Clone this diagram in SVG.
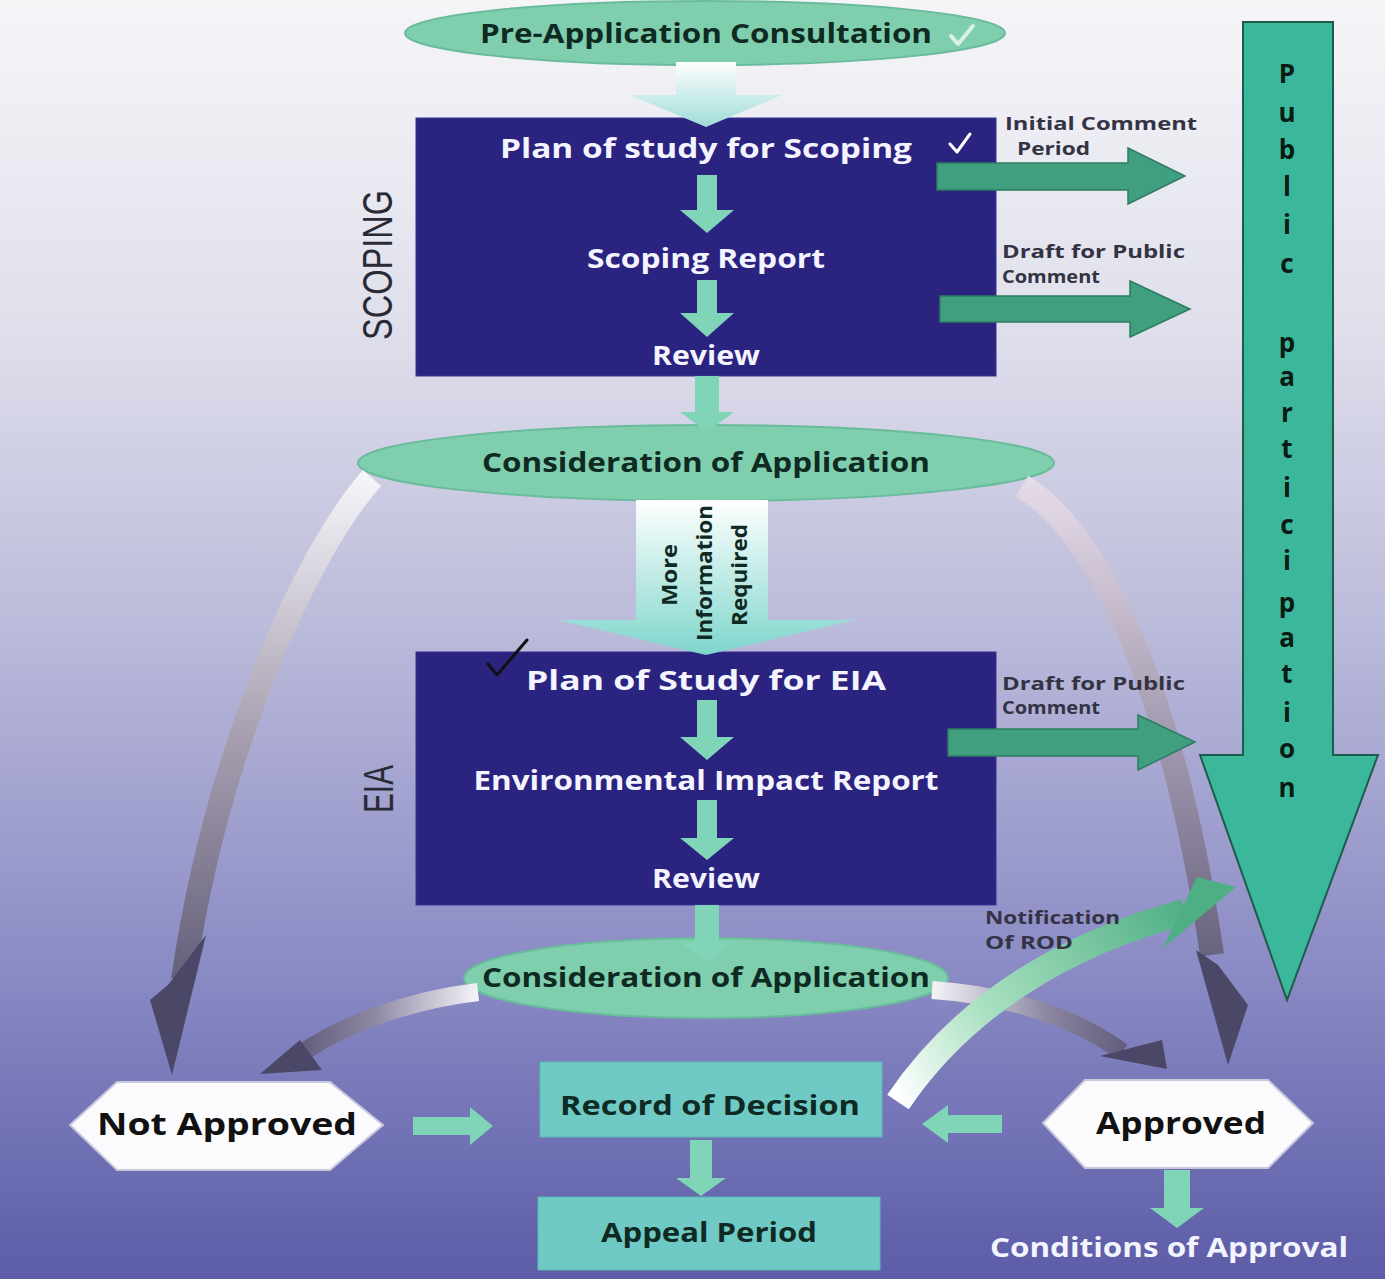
<svg xmlns="http://www.w3.org/2000/svg" width="1385" height="1279" viewBox="0 0 1385 1279">
<defs>
<linearGradient id="bg" x1="0" y1="0" x2="0" y2="1">
<stop offset="0" stop-color="#f5f5f8"/>
<stop offset="0.25" stop-color="#e0e0ec"/>
<stop offset="0.5" stop-color="#b9b9da"/>
<stop offset="0.75" stop-color="#8c8cc6"/>
<stop offset="1" stop-color="#5c5ca8"/>
</linearGradient>
<linearGradient id="gPre" x1="0" y1="62" x2="0" y2="127" gradientUnits="userSpaceOnUse">
<stop offset="0" stop-color="#ffffff"/>
<stop offset="1" stop-color="#9edcd8"/>
</linearGradient>
<linearGradient id="gMore" x1="0" y1="500" x2="0" y2="655" gradientUnits="userSpaceOnUse">
<stop offset="0" stop-color="#ffffff"/>
<stop offset="1" stop-color="#7fd6cc"/>
</linearGradient>
<linearGradient id="gLeft" x1="0" y1="475" x2="0" y2="1075" gradientUnits="userSpaceOnUse">
<stop offset="0" stop-color="#f6f6fa"/>
<stop offset="0.45" stop-color="#a59cae"/>
<stop offset="1" stop-color="#4a4866"/>
</linearGradient>
<linearGradient id="gRight" x1="0" y1="480" x2="0" y2="1065" gradientUnits="userSpaceOnUse">
<stop offset="0" stop-color="#e6dce8"/>
<stop offset="0.5" stop-color="#9a90a8"/>
<stop offset="1" stop-color="#4a4866"/>
</linearGradient>
<linearGradient id="gNA" x1="478" y1="0" x2="262" y2="0" gradientUnits="userSpaceOnUse">
<stop offset="0" stop-color="#f4f4f8"/>
<stop offset="0.5" stop-color="#8a84a0"/>
<stop offset="1" stop-color="#4a4866"/>
</linearGradient>
<linearGradient id="gAP" x1="932" y1="0" x2="1168" y2="0" gradientUnits="userSpaceOnUse">
<stop offset="0" stop-color="#f4f4f8"/>
<stop offset="0.5" stop-color="#8a84a0"/>
<stop offset="1" stop-color="#4a4866"/>
</linearGradient>
<linearGradient id="gNot" x1="900" y1="1100" x2="1190" y2="905" gradientUnits="userSpaceOnUse">
<stop offset="0" stop-color="#ffffff"/>
<stop offset="0.35" stop-color="#a8e0c0"/>
<stop offset="1" stop-color="#4eae84"/>
</linearGradient>
<style>
.ell{fill:#7fcfaf;stroke:#69bb9c;stroke-width:2}
.box{fill:#2b2380;stroke:#3a3290;stroke-width:1}
.tbox{fill:#6fcac6;stroke:#5fb8b4;stroke-width:1}
.hex{fill:#fbfbfd;stroke:#c8c8dc;stroke-width:2}
.mint{fill:#80d4b8}
.side{fill:#3f9f7f;stroke:#2e7c62;stroke-width:1.5}
.lbl{font-family:"Comic Sans MS","Open Sans","Liberation Sans",sans-serif;font-weight:bold;font-size:26px;text-anchor:middle}
.dk{fill:#0f2a22}
.wh{fill:#f4f4ff}
.sm{font-family:"Comic Sans MS","Open Sans","Liberation Sans",sans-serif;font-weight:bold;font-size:17px;fill:#333344}
.pp{font-family:"Comic Sans MS","Open Sans","Liberation Sans",sans-serif;font-weight:bold;font-size:26px;fill:#0a1a14;text-anchor:middle;dominant-baseline:central}
.side-title{font-family:"Liberation Sans",sans-serif;font-size:42px;fill:#2a2a36;text-anchor:middle}
</style>
</defs>

<rect x="0" y="0" width="1385" height="1279" fill="url(#bg)"/>

<!-- Public participation big arrow -->
<g id="public-participation">
<path d="M1243 22 H1333 V755 H1378 L1287 1000 L1200 755 H1243 Z" fill="#3bb89c" stroke="#1f5a4a" stroke-width="2"/>
<text class="pp" x="1287" y="73">P</text>
<text class="pp" x="1287" y="112">u</text>
<text class="pp" x="1287" y="149">b</text>
<text class="pp" x="1287" y="186">l</text>
<text class="pp" x="1287" y="224">i</text>
<text class="pp" x="1287" y="263">c</text>
<text class="pp" x="1287" y="342">p</text>
<text class="pp" x="1287" y="376">a</text>
<text class="pp" x="1287" y="412">r</text>
<text class="pp" x="1287" y="448">t</text>
<text class="pp" x="1287" y="487">i</text>
<text class="pp" x="1287" y="524">c</text>
<text class="pp" x="1287" y="560">i</text>
<text class="pp" x="1287" y="602">p</text>
<text class="pp" x="1287" y="637">a</text>
<text class="pp" x="1287" y="673">t</text>
<text class="pp" x="1287" y="712">i</text>
<text class="pp" x="1287" y="748">o</text>
<text class="pp" x="1287" y="787">n</text>
</g>

<!-- side titles -->
<text class="side-title" transform="translate(392,265) rotate(-90)" textLength="150" lengthAdjust="spacingAndGlyphs">SCOPING</text>
<text class="side-title" transform="translate(393,789) rotate(-90)" textLength="48" lengthAdjust="spacingAndGlyphs">EIA</text>

<!-- Nodes -->
<g id="pre-app">
<ellipse class="ell" cx="705" cy="33" rx="300" ry="32"/>
<text class="lbl dk" x="706" y="43" textLength="452" lengthAdjust="spacingAndGlyphs">Pre-Application Consultation</text>
<path d="M951 36 L958 44 L973 26" fill="none" stroke="#e8f8f0" stroke-width="4" stroke-linecap="round" stroke-linejoin="round" opacity="0.85"/>
</g>

<g id="scoping">
<rect class="box" x="416" y="118" width="580" height="258"/>
<text class="lbl wh" x="706" y="158" textLength="412" lengthAdjust="spacingAndGlyphs">Plan of study for Scoping</text>
<text class="lbl wh" x="706" y="268" textLength="238" lengthAdjust="spacingAndGlyphs">Scoping Report</text>
<text class="lbl wh" x="706" y="365" textLength="108" lengthAdjust="spacingAndGlyphs">Review</text>
<path d="M950 144 L957 152 L970 134" fill="none" stroke="#ffffff" stroke-width="3" stroke-linecap="round" stroke-linejoin="round"/>
</g>

<g id="consideration-1">
<ellipse class="ell" cx="706" cy="463" rx="348" ry="38"/>
<text class="lbl dk" x="706" y="472" textLength="448" lengthAdjust="spacingAndGlyphs">Consideration of Application</text>
</g>

<g id="eia">
<rect class="box" x="416" y="652" width="580" height="253"/>
<text class="lbl wh" x="706" y="690" textLength="360" lengthAdjust="spacingAndGlyphs">Plan of Study for EIA</text>
<text class="lbl wh" x="706" y="790" textLength="465" lengthAdjust="spacingAndGlyphs">Environmental Impact Report</text>
<text class="lbl wh" x="706" y="888" textLength="108" lengthAdjust="spacingAndGlyphs">Review</text>
</g>

<g id="consideration-2">
<ellipse class="ell" cx="706" cy="978" rx="242" ry="40"/>
<text class="lbl dk" x="706" y="987" textLength="448" lengthAdjust="spacingAndGlyphs">Consideration of Application</text>
</g>

<g id="not-approved">
<path class="hex" d="M70 1125 L117 1082 H330 L383 1125 L330 1170 H117 Z"/>
<text class="lbl" x="227" y="1135" fill="#111" style="font-size:31px" textLength="260" lengthAdjust="spacingAndGlyphs">Not Approved</text>
</g>

<g id="record-of-decision">
<rect class="tbox" x="540" y="1062" width="342" height="75"/>
<text class="lbl dk" x="710" y="1115" textLength="300" lengthAdjust="spacingAndGlyphs">Record of Decision</text>
</g>

<g id="appeal-period">
<rect class="tbox" x="538" y="1197" width="342" height="73"/>
<text class="lbl dk" x="709" y="1242" textLength="216" lengthAdjust="spacingAndGlyphs">Appeal Period</text>
</g>

<g id="approved">
<path class="hex" d="M1043 1123 L1085 1080 H1268 L1313 1123 L1268 1168 H1085 Z"/>
<text class="lbl" x="1181" y="1134" fill="#111" style="font-size:31px" textLength="170" lengthAdjust="spacingAndGlyphs">Approved</text>
</g>

<g id="conditions-of-approval">
<text class="lbl wh" x="1169" y="1257" textLength="358" lengthAdjust="spacingAndGlyphs">Conditions of Approval</text>
</g>

<!-- Connectors -->
<g id="connectors">
<!-- pre-app to scoping -->
<path d="M676 62 H736 V95 H782 L706 127 L630 95 H676 Z" fill="url(#gPre)"/>
<!-- inside scoping -->
<path class="mint" d="M697 175 H717 V210 H734 L707 233 L680 210 H697 Z"/>
<path class="mint" d="M697 280 H717 V313 H734 L707 337 L680 313 H697 Z"/>
<!-- scoping to consideration 1 -->
<path class="mint" d="M695 376 H719 V412 H734 L707 432 L680 412 H695 Z"/>
<!-- more information required -->
<path d="M636 500 H768 V620 H855 L706 655 L558 620 H636 Z" fill="url(#gMore)"/>
<g class="lbl dk" style="font-size:22px">
<text transform="translate(677,575) rotate(-90)" textLength="62" lengthAdjust="spacingAndGlyphs">More</text>
<text transform="translate(712,573) rotate(-90)" textLength="136" lengthAdjust="spacingAndGlyphs">Information</text>
<text transform="translate(747,575) rotate(-90)" textLength="102" lengthAdjust="spacingAndGlyphs">Required</text>
</g>
<path d="M488 664 L497 675 L527 640" fill="none" stroke="#111" stroke-width="3" stroke-linecap="round" stroke-linejoin="round"/>
<!-- inside EIA -->
<path class="mint" d="M697 700 H717 V737 H734 L707 760 L680 737 H697 Z"/>
<path class="mint" d="M697 800 H717 V838 H734 L707 860 L680 838 H697 Z"/>
<!-- EIA to consideration 2 -->
<path class="mint" d="M695 905 H719 V942 H734 L707 962 L680 942 H695 Z"/>

<!-- side arrows to public participation -->
<path class="side" d="M937 163 H1128 V148 L1185 176 L1128 204 V190 H937 Z"/>
<text class="sm" x="1005" y="130" textLength="192" lengthAdjust="spacingAndGlyphs">Initial Comment</text>
<text class="sm" x="1017" y="155" textLength="73" lengthAdjust="spacingAndGlyphs">Period</text>
<path class="side" d="M940 296 H1130 V281 L1190 309 L1130 337 V322 H940 Z"/>
<text class="sm" x="1002" y="258" textLength="183" lengthAdjust="spacingAndGlyphs">Draft for Public</text>
<text class="sm" x="1002" y="283" textLength="98" lengthAdjust="spacingAndGlyphs">Comment</text>

<!-- gray curved arrows from consideration 1 -->
<path d="M372 478 C300 560, 215 760, 183 980" fill="none" stroke="url(#gLeft)" stroke-width="24"/>
<path d="M172 1075 L150 1000 L168 985 L206 935 Z" fill="#4a4866"/>
<path d="M1022 486 C1110 540, 1178 720, 1212 955" fill="none" stroke="url(#gRight)" stroke-width="24"/>
<path d="M1228 1065 L1196 950 L1218 965 L1248 1005 Z" fill="#4a4866"/>

<path class="side" d="M948 729 H1138 V715 L1195 742 L1138 770 V756 H948 Z"/>
<text class="sm" x="1002" y="690" textLength="183" lengthAdjust="spacingAndGlyphs">Draft for Public</text>
<text class="sm" x="1002" y="714" textLength="98" lengthAdjust="spacingAndGlyphs">Comment</text>

<!-- consideration 2 to not approved / approved -->
<path d="M478 992 C410 1000, 340 1025, 298 1056" fill="none" stroke="url(#gNA)" stroke-width="18"/>
<path d="M260 1074 L300 1040 L322 1070 Z" fill="#4a4866"/>
<path d="M932 990 C1010 995, 1080 1020, 1122 1052" fill="none" stroke="url(#gAP)" stroke-width="18"/>
<path d="M1167 1069 L1100 1056 L1162 1040 Z" fill="#4a4866"/>

<!-- not approved / approved to record of decision -->
<path class="mint" d="M413 1117 H470 V1107 L493 1126 L470 1145 V1135 H413 Z"/>
<path class="mint" d="M1002 1115 H948 V1105 L922 1124 L948 1143 V1133 H1002 Z"/>
<!-- record to appeal -->
<path class="mint" d="M690 1140 H712 V1178 H726 L701 1196 L676 1178 H690 Z"/>
<!-- approved to conditions -->
<path class="mint" d="M1164 1170 H1190 V1208 H1204 L1177 1228 L1150 1208 H1164 Z"/>

<!-- notification of ROD -->
<path d="M898 1102 C960 1010, 1060 945, 1185 912" fill="none" stroke="url(#gNot)" stroke-width="26"/>
<path d="M1197 877 L1236 887 L1163 948 Z" fill="#4eae84"/>
<text class="sm" x="985" y="924" textLength="135" lengthAdjust="spacingAndGlyphs">Notification</text>
<text class="sm" x="985" y="949" textLength="88" lengthAdjust="spacingAndGlyphs">Of ROD</text>
</g>
</svg>
